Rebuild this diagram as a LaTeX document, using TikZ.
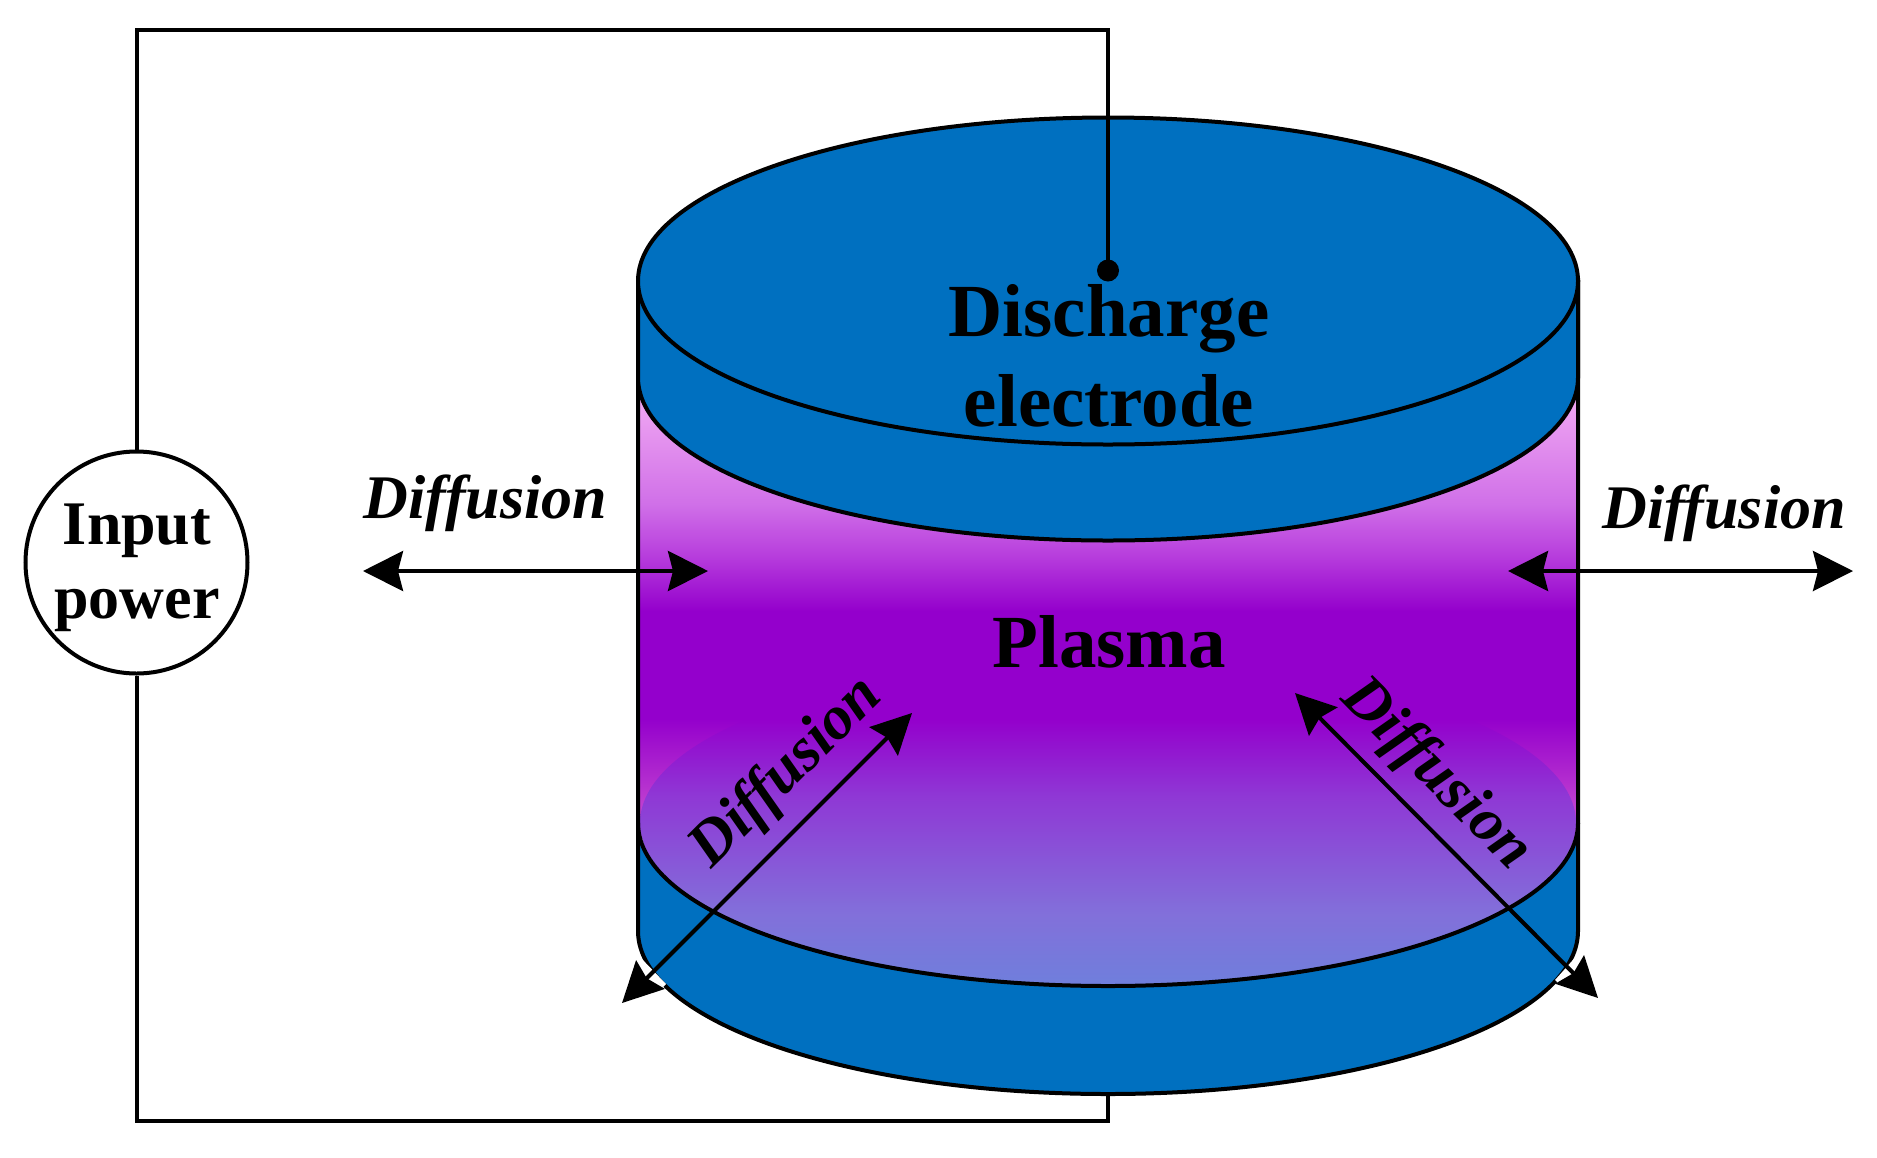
\documentclass[tikz,border=0pt]{standalone}
\usepackage{fontspec}
\setmainfont{Liberation Serif}
\usetikzlibrary{arrows.meta}
\definecolor{elblue}{HTML}{0070C0}
\definecolor{pa}{HTML}{F3ACF3}
\definecolor{pc}{HTML}{D070E8}
\definecolor{pd}{HTML}{B83FDD}
\definecolor{pe}{HTML}{9400CC}
\definecolor{pf}{HTML}{C040D0}
\definecolor{qb}{HTML}{8F38D5}
\definecolor{qc}{HTML}{8270DA}
\definecolor{qd}{HTML}{6F7FDC}
\pgfdeclareverticalshading{plasmaback}{100bp}{
 color(0bp)=(pf); color(25bp)=(pf); color(27.7bp)=(pf); color(35.7bp)=(pe); color(45.3bp)=(pe);
 color(50.4bp)=(pd); color(54.9bp)=(pc); color(65.2bp)=(pa); color(75bp)=(pa); color(100bp)=(pa)}
\pgfdeclareverticalshading{plasmafloor}{100bp}{
 color(0bp)=(qd); color(25bp)=(qd); color(36bp)=(qc); color(54.1bp)=(qb); color(66bp)=(pe); color(75bp)=(pe); color(100bp)=(pe)}
\tikzset{
  wire/.style={black,line width=2pt},
  outline/.style={black,line width=2pt},
  dblarrow/.style={black,line width=2pt,{Stealth[length=20pt,width=20pt,inset=2.5pt]}-{Stealth[length=20pt,width=20pt,inset=2.5pt]}},
  title/.style={font=\fontsize{37.5}{45}\selectfont\bfseries,align=center,inner sep=0pt,text=black},
  diff/.style={font=\fontsize{31}{37}\selectfont\bfseries\itshape,inner sep=0pt,text=black},
}
\begin{document}
\begin{tikzpicture}[x=0.5pt,y=0.5pt]
\useasboundingbox (0,-1157) rectangle (1877,0);
\fill[white] (0,-1157) rectangle (1877,0);
% plasma column
\shade[shading=plasmaback] (638,-279) rectangle (1578,-838);
% lower electrode
\fill[elblue] (638,-823) -- (638,-931) arc[start angle=180,end angle=360,x radius=470,y radius=163] -- (1578,-823) arc[start angle=360,end angle=180,x radius=470,y radius=163] -- cycle;
\shade[shading=plasmafloor] (1108,-823) ellipse[x radius=468,y radius=163];
\draw[outline] (638,-823) arc[start angle=180,end angle=360,x radius=470,y radius=163];
\draw[outline] (638,-280) -- (638,-931) arc[start angle=180,end angle=360,x radius=470,y radius=163] -- (1578,-280);
% upper electrode
\filldraw[outline,fill=elblue] (638,-280) -- (638,-377.5) arc[start angle=180,end angle=360,x radius=470,y radius=163] -- (1578,-280) -- cycle;
\filldraw[outline,fill=elblue] (1108,-281) ellipse[x radius=470,y radius=163.5];
% power source and wiring
\node[draw=black,line width=2pt,fill=white,circle,minimum size=111pt,inner sep=0pt] (power) at (136.5,-562.5) {};
\node[align=center,inner sep=0pt,font=\fontsize{31}{37}\selectfont\bfseries] (powerlabel) at (137,-568) {Input\\power};
\coordinate (tl) at (136.5,-30);
\coordinate (tr) at (1108,-30);
\coordinate (bl) at (136.5,-1121);
\coordinate (br) at (1108,-1121);
\coordinate (bot) at (1108,-1094);
\node[circle,fill=black,minimum size=11pt,inner sep=0pt] (dot) at (1108,-270.5) {};
\draw[wire] (power.north) -- (tl) -- (tr) -- (dot.center);
\draw[wire] (power.south) -- (bl) -- (br) -- (bot);
% labels
\node[title] (electrode) at (1109,-356) {Discharge\\electrode};
\node[title,anchor=base] (plasma) at (1109,-667) {Plasma};
\node[diff,anchor=base] (d1) at (485.5,-518) {Diffusion};
\node[diff,anchor=base] (d2) at (1724,-528) {Diffusion};
\node[diff,rotate=45] (d3) at (787,-773) {Diffusion};
\node[diff,rotate=-45] (d4) at (1436,-775) {Diffusion};
% white slivers behind the lower arrowheads
\fill[white] (636,-959) -- (639,-956) -- (666,-984) -- (663,-987) -- cycle;
\fill[white] (1583,-955) -- (1580,-952) -- (1555,-980) -- (1558,-983) -- cycle;
% diffusion arrows
\coordinate (a1) at (363,-571); \coordinate (a2) at (708,-571);
\coordinate (b1) at (1508,-571); \coordinate (b2) at (1853,-571);
\coordinate (c1) at (622,-1003); \coordinate (c2) at (912,-713);
\coordinate (e1) at (1598,-998); \coordinate (e2) at (1295,-693);
\draw[dblarrow] (a1) -- (a2);
\draw[dblarrow] (b1) -- (b2);
\draw[dblarrow] (c1) -- (c2);
\draw[dblarrow] (e1) -- (e2);
\end{tikzpicture}
\end{document}
